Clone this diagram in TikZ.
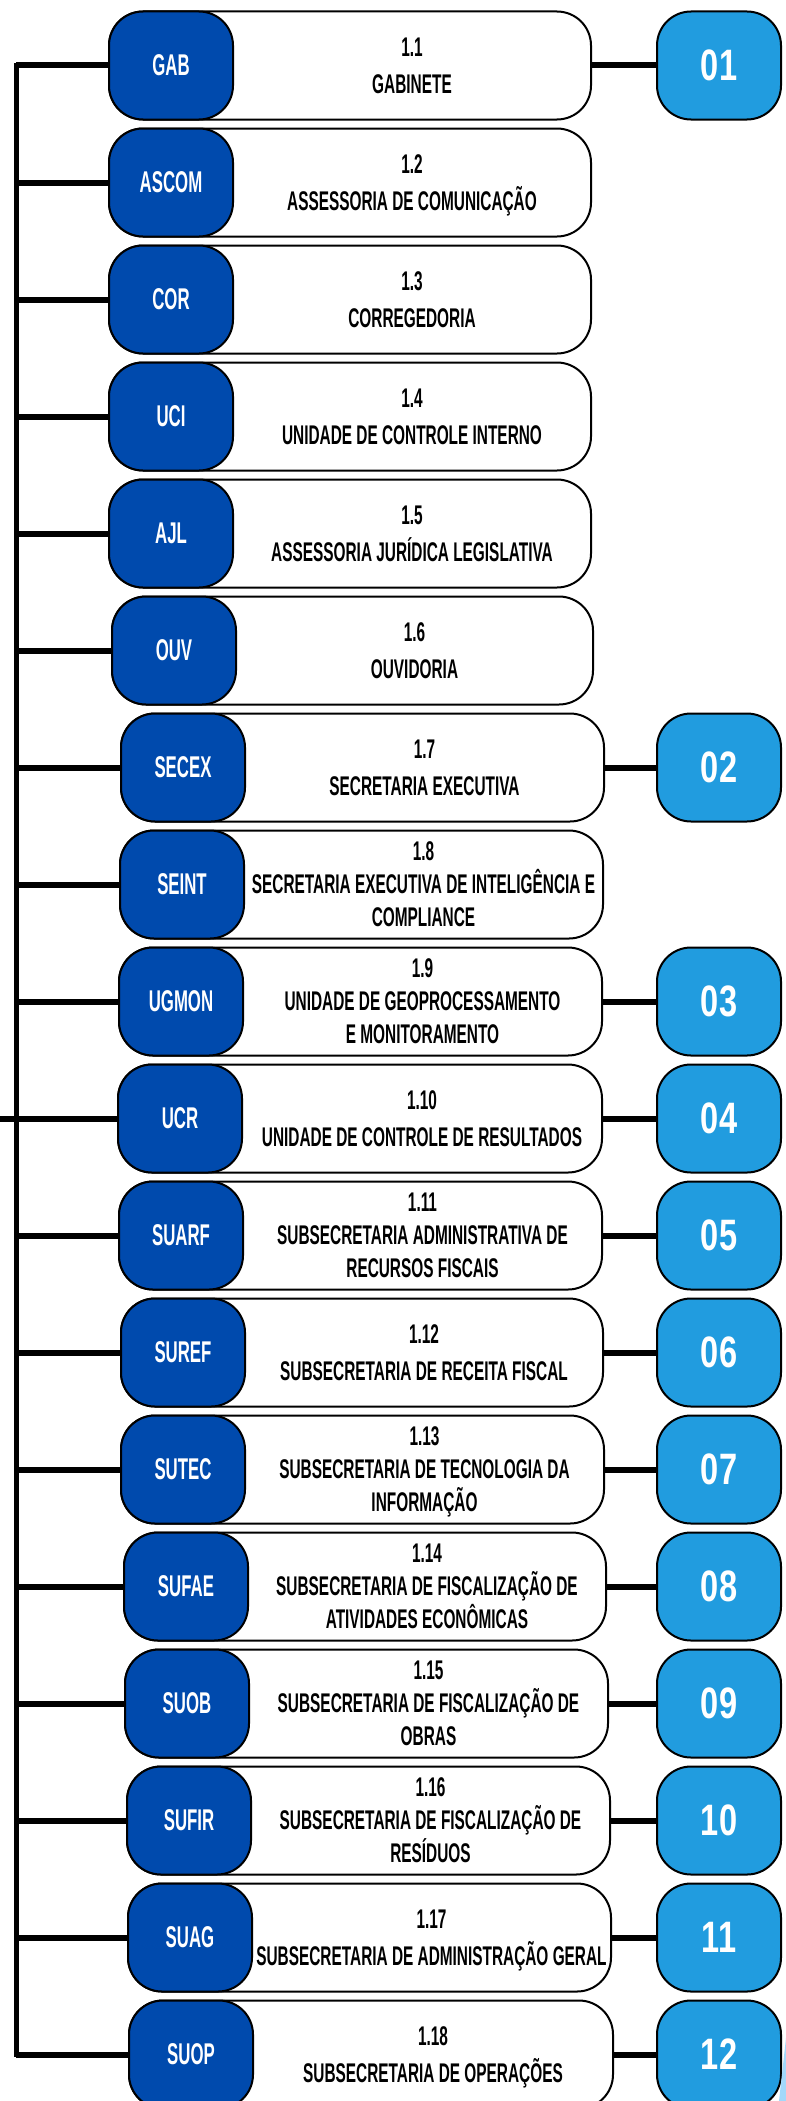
\documentclass[tikz,border=0pt]{standalone}
\usepackage{fontspec}
\usepackage{graphicx}
\newfontfamily\descfont[FakeStretch=0.57]{Liberation Sans}
\newfontfamily\labfont[FakeStretch=0.56]{Liberation Sans}
\newfontfamily\numfont[FakeStretch=0.74]{Liberation Sans}
\definecolor{darkblue}{HTML}{004AAD}
\definecolor{lightblue}{HTML}{219CDF}
\definecolor{paleblue}{HTML}{A3D8FA}
\tikzset{
  wbox/.style={draw=black, line width=2pt, fill=white, rounded corners=34pt,
    minimum height=108pt, inner sep=0pt},
  bbox/.style={draw=black, line width=2pt, fill=darkblue, rounded corners=34pt,
    minimum width=124pt, minimum height=108pt, inner sep=0pt, text=white,
    font=\labfont\bfseries\fontsize{30}{30}\selectfont},
  rbox/.style={draw=black, line width=2pt, fill=lightblue, rounded corners=34pt,
    minimum width=124pt, minimum height=108pt, inner sep=0pt, text=white,
    font=\numfont\bfseries\fontsize{44}{44}\selectfont},
  dtext/.style={align=center, inner sep=0pt, text=black, text depth=0pt,
    font=\descfont\bfseries\fontsize{27}{37}\selectfont},
  dtextiii/.style={dtext, font=\descfont\bfseries\fontsize{27}{33}\selectfont},
  conn/.style={line width=6pt, draw=black},
  trunk/.style={line width=5pt, draw=black, line join=miter},
}
% #1 index, #2 left x, #3 right x of white box, #4 label, #5 text, #6 number, #7 text style
\newcommand\orgrow[7]{%
  \pgfmathsetmacro\yc{65.5+117*#1}%
  \pgfmathsetmacro\ww{#3-#2}%
  \pgfmathsetmacro\wx{(#2+#3)/2}%
  \pgfmathsetmacro\bx{#2+62}%
  \pgfmathsetmacro\tx{(#2+124+#3)/2}%
  \coordinate (j#1) at (16,\yc);
  \draw[conn] (j#1) -- (\bx-62,\yc);
  \node[wbox, minimum width=\ww pt] (w#1) at (\wx,\yc) {};
  \node[bbox] (b#1) at (\bx,\yc) {#4};
  \node[#7] (t#1) at (\tx,\yc) {#5};
  \ifx\relax#6\relax\else
    \node[rbox] (r#1) at (719,\yc) {#6};
    \draw[conn] (w#1.east) -- (r#1.west);
  \fi
}
\begin{document}
\begin{tikzpicture}[x=1pt,y=-1pt]
\useasboundingbox (0,0) rectangle (786,2101);
\fill[white] (0,0) rectangle (786,2101);
\coordinate (tt) at (16,63);
\coordinate (tb) at (16,2057);
\coordinate (stub) at (0,1118.5);
\coordinate (tj) at (16,1118.5);
\draw[trunk] (tt) -- (tb);
\draw[conn] (stub) -- (tj);
\orgrow{0}{109}{591}{GAB}{1.1\\GABINETE}{01}{dtext}
\orgrow{1}{109}{591}{ASCOM}{1.2\\ASSESSORIA DE COMUNICAÇÃO}{}{dtext}
\orgrow{2}{109}{591}{COR}{1.3\\CORREGEDORIA}{}{dtext}
\orgrow{3}{109}{591}{UCI}{1.4\\UNIDADE DE CONTROLE INTERNO}{}{dtext}
\orgrow{4}{109}{591}{AJL}{1.5\\ASSESSORIA JURÍDICA LEGISLATIVA}{}{dtext}
\orgrow{5}{112}{593}{OUV}{1.6\\OUVIDORIA}{}{dtext}
\orgrow{6}{121}{604}{SECEX}{1.7\\SECRETARIA EXECUTIVA}{02}{dtext}
\orgrow{7}{120}{603}{SEINT}{1.8\\SECRETARIA EXECUTIVA DE INTELIGÊNCIA E\\COMPLIANCE}{}{dtextiii}
\orgrow{8}{119}{602}{UGMON}{1.9\\UNIDADE DE GEOPROCESSAMENTO\\E MONITORAMENTO}{03}{dtextiii}
\orgrow{9}{118}{602}{UCR}{1.10\\UNIDADE DE CONTROLE DE RESULTADOS}{04}{dtext}
\orgrow{10}{119}{602}{SUARF}{1.11\\SUBSECRETARIA ADMINISTRATIVA DE\\RECURSOS FISCAIS}{05}{dtextiii}
\orgrow{11}{121}{603}{SUREF}{1.12\\SUBSECRETARIA DE RECEITA FISCAL}{06}{dtext}
\orgrow{12}{121}{604}{SUTEC}{1.13\\SUBSECRETARIA DE TECNOLOGIA DA\\INFORMAÇÃO}{07}{dtextiii}
\orgrow{13}{124}{606}{SUFAE}{1.14\\SUBSECRETARIA DE FISCALIZAÇÃO DE\\ATIVIDADES ECONÔMICAS}{08}{dtextiii}
\orgrow{14}{125}{608}{SUOB}{1.15\\SUBSECRETARIA DE FISCALIZAÇÃO DE\\OBRAS}{09}{dtextiii}
\orgrow{15}{127}{610}{SUFIR}{1.16\\SUBSECRETARIA DE FISCALIZAÇÃO DE\\RESÍDUOS}{10}{dtextiii}
\orgrow{16}{128}{611}{SUAG}{1.17\\SUBSECRETARIA DE ADMINISTRAÇÃO GERAL}{11}{dtext}
\orgrow{17}{129}{613}{SUOP}{1.18\\SUBSECRETARIA DE OPERAÇÕES}{12}{dtext}
\fill[paleblue] (786,2038) -- (779,2101) -- (786,2101) -- cycle;
\end{tikzpicture}
\end{document}
